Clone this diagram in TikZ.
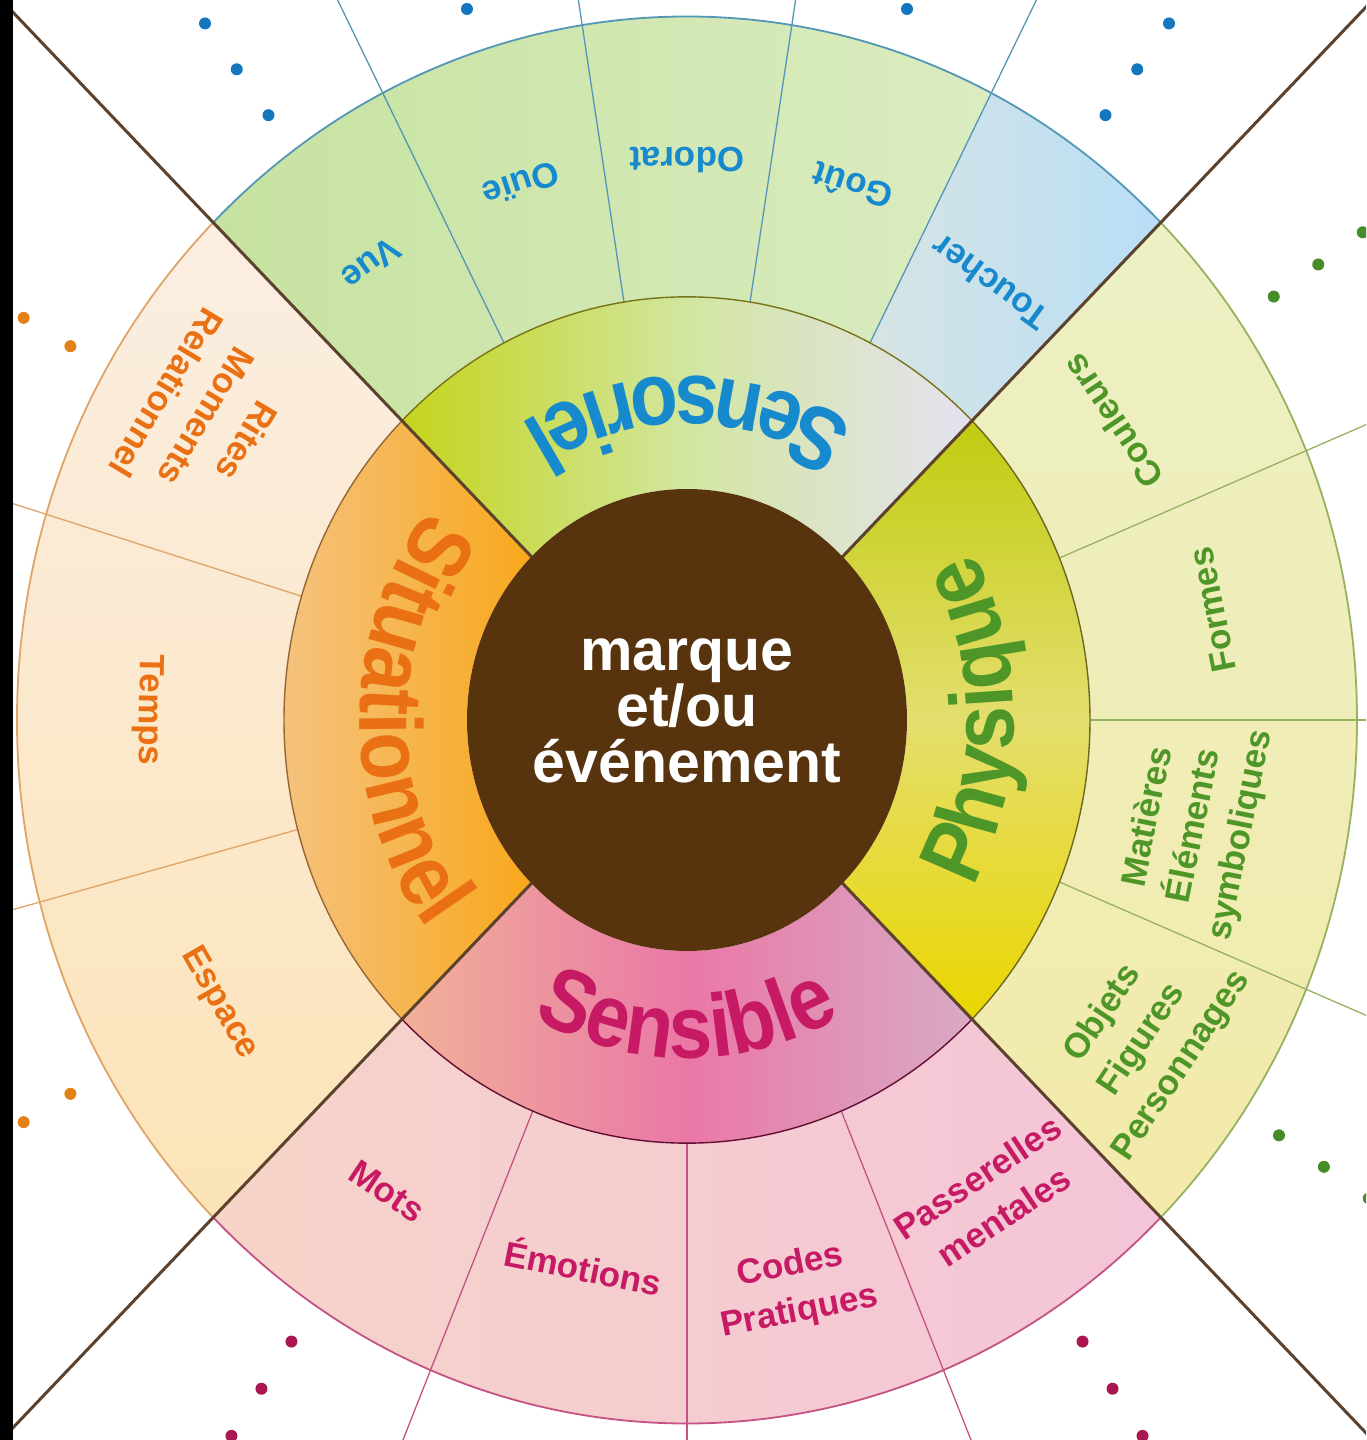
\documentclass[tikz,border=0pt]{standalone}
\usepackage{fontspec}
\setmainfont{Liberation Sans}
\newfontfamily\ringfont{Liberation Sans}[FakeStretch=0.88]
\usetikzlibrary{decorations.text}

\newcommand{\ringtxt}{\ringfont\bfseries\fontsize{89}{89}\selectfont}

\definecolor{brun}{RGB}{87,51,14}
\definecolor{diag}{RGB}{92,66,44}
% sensoriel
\definecolor{sensoblue}{RGB}{22,138,204}
\definecolor{sensoline}{RGB}{84,150,182}
\definecolor{sensodot}{RGB}{20,118,190}
\definecolor{soL}{RGB}{196,212,28}
\definecolor{soM}{RGB}{210,230,160}
\definecolor{soR}{RGB}{228,226,240}
\definecolor{vueL}{RGB}{198,226,160}
\definecolor{vueR}{RGB}{224,238,200}
\definecolor{touL}{RGB}{214,228,228}
\definecolor{touR}{RGB}{184,222,246}
% physique
\definecolor{physgreen}{RGB}{78,150,40}
\definecolor{physline}{RGB}{150,178,96}
\definecolor{physdot}{RGB}{70,140,40}
\definecolor{phT}{RGB}{192,204,16}
\definecolor{phM}{RGB}{228,222,110}
\definecolor{phB}{RGB}{234,214,0}
\definecolor{foT}{RGB}{236,240,196}
\definecolor{foB}{RGB}{243,234,170}
% sensible
\definecolor{sensimag}{RGB}{198,26,100}
\definecolor{sensiline}{RGB}{196,82,132}
\definecolor{sensidot}{RGB}{170,22,82}
\definecolor{siL}{RGB}{240,176,152}
\definecolor{siM}{RGB}{234,120,166}
\definecolor{siR}{RGB}{216,170,196}
\definecolor{moL}{RGB}{246,212,200}
\definecolor{moR}{RGB}{244,196,216}
% situationnel
\definecolor{situorange}{RGB}{234,112,20}
\definecolor{situline}{RGB}{222,164,104}
\definecolor{situdot}{RGB}{226,130,22}
\definecolor{stL}{RGB}{244,198,142}
\definecolor{stR}{RGB}{248,168,28}
\definecolor{teT}{RGB}{251,238,226}
\definecolor{teB}{RGB}{252,228,184}

\tikzset{
  lab/.style={font=\bfseries\fontsize{35}{47}\selectfont, align=center, inner sep=0pt},
  ringline/.style={line width=1.4pt},
  cellline/.style={line width=1.3pt},
  rimline/.style={line width=1.8pt}
}

\begin{document}
\begin{tikzpicture}[x=1pt, y=1.05pt]
    \useasboundingbox (-687,-685.714) rectangle (679,685.714);
    \clip (-687,-685.714) rectangle (679,685.714);

    % Outer band
    \shade[left color=vueL, right color=vueR] (45:403) arc[start angle=45, end angle=135, radius=403]
        -- (135:670) arc[start angle=135, end angle=45, radius=670] -- cycle;
    \shade[left color=touL, right color=touR] (45:403) arc[start angle=45, end angle=63, radius=403]
        -- (63:670) arc[start angle=63, end angle=45, radius=670] -- cycle;
    \shade[top color=foT, bottom color=foB] (-45:403) arc[start angle=-45, end angle=45, radius=403]
        -- (45:670) arc[start angle=45, end angle=-45, radius=670] -- cycle;
    \shade[left color=moL, right color=moR] (-135:403) arc[start angle=-135, end angle=-45, radius=403]
        -- (-45:670) arc[start angle=-45, end angle=-135, radius=670] -- cycle;
    \shade[top color=teT, bottom color=teB] (135:403) arc[start angle=135, end angle=225, radius=403]
        -- (225:670) arc[start angle=225, end angle=135, radius=670] -- cycle;

    % Inner ring
    \shade[left color=soL, right color=soR, middle color=soM] (45:220) arc[start angle=45, end angle=135, radius=220]
        -- (135:403) arc[start angle=135, end angle=45, radius=403] -- cycle;
    \shade[top color=phT, bottom color=phB, middle color=phM] (-45:220) arc[start angle=-45, end angle=45, radius=220]
        -- (45:403) arc[start angle=45, end angle=-45, radius=403] -- cycle;
    \shade[left color=siL, right color=siR, middle color=siM] (-135:220) arc[start angle=-135, end angle=-45, radius=220]
        -- (-45:403) arc[start angle=-45, end angle=-135, radius=403] -- cycle;
    \shade[left color=stL, right color=stR] (135:220) arc[start angle=135, end angle=225, radius=220]
        -- (225:403) arc[start angle=225, end angle=135, radius=403] -- cycle;

    % Cell dividers
    \foreach \a in {63,81,99,117}
        \draw[cellline, sensoline] (\a:403) -- (\a:1100);
    \foreach \a in {22.5,0,-22.5}
        \draw[cellline, physline] (\a:403) -- (\a:1100);
    \foreach \a in {-67.5,-90,-112.5}
        \draw[cellline, sensiline] (\a:403) -- (\a:1100);
    \foreach \a in {163,195}
        \draw[cellline, situline] (\a:403) -- (\a:1100);

    % Rims
    \draw[rimline, sensoline] (45:670) arc[start angle=45, end angle=135, radius=670];
    \draw[rimline, physline] (-45:670) arc[start angle=-45, end angle=45, radius=670];
    \draw[rimline, sensiline] (-135:670) arc[start angle=-135, end angle=-45, radius=670];
    \draw[rimline, situline] (135:670) arc[start angle=135, end angle=225, radius=670];
    \draw[ringline, olive!80!black] (45:403) arc[start angle=45, end angle=135, radius=403];
    \draw[ringline, olive!70!black] (-45:403) arc[start angle=-45, end angle=45, radius=403];
    \draw[ringline, sensimag!50!black] (-135:403) arc[start angle=-135, end angle=-45, radius=403];
    \draw[ringline, brown!80!black] (135:403) arc[start angle=135, end angle=225, radius=403];

    % Diagonals
    \foreach \a in {45,135,225,315}
        \draw[diag, line width=3pt] (0,0) -- (\a:1100);

    % Centre
    \fill[brun] (0,0) circle (220);
    \node[text=white, font=\bfseries\fontsize{59}{56}\selectfont, align=center] (centre) at (0,9)
        {marque\\et/ou\\événement};

    % Ring titles
    \path[decorate, decoration={text along path, text align=center,
        text={|\ringtxt\color{sensoblue}|Sensoriel}}]
        (45:327) arc[start angle=45, end angle=135, radius=327];
    \path[decorate, decoration={text along path, text align=center,
        text={|\ringtxt\color{physgreen}|Physique}}]
        (-45:327) arc[start angle=-45, end angle=45, radius=327];
    \path[decorate, decoration={text along path, text align=center,
        text={|\ringtxt\color{sensimag}|Sensible}}]
        (-135:322) arc[start angle=-135, end angle=-45, radius=322];
    \path[decorate, decoration={text along path, text align=center,
        text={|\ringtxt\color{situorange}|Situationnel}}]
        (135:327) arc[start angle=135, end angle=225, radius=327];

    % Sensoriel cells
    \node[lab, text=sensoblue, rotate=216] (vue) at (126:537) {Vue};
    \node[lab, text=sensoblue, rotate=198] (ouie) at (108:537) {Ouïe};
    \node[lab, text=sensoblue, rotate=180] (odorat) at (90:533) {Odorat};
    \node[lab, text=sensoblue, rotate=162] (gout) at (72:535) {Goût};
    \node[lab, text=sensoblue, rotate=144] (toucher) at (54:515) {Toucher};

    % Physique cells
    \node[lab, text=physgreen, rotate=123.75] (couleurs) at (33.75:512) {Couleurs};
    \node[lab, text=physgreen, rotate=101.25] (formes) at (11.25:536) {Formes};
    \node[lab, text=physgreen, rotate=78.75] (matieres) at (-11.25:518) {Matières\\Éléments\\symboliques};
    \node[lab, text=physgreen, rotate=56.25] (objets) at (-33.75:548) {Objets\\Figures\\Personnages};

    % Sensible cells
    \node[lab, text=sensimag, rotate=-33.75] (mots) at (-123.75:540) {Mots};
    \node[lab, text=sensimag, rotate=-11.25] (emotions) at (-101.25:530) {Émotions};
    \node[lab, text=sensimag, rotate=11.25] (codes) at (-78.75:553) {Codes\\Pratiques};
    \node[lab, text=sensimag, rotate=33.75] (passerelles) at (-56.25:546) {Passerelles\\mentales};

    % Situationnel cells
    \node[lab, text=situorange, rotate=239] (rites) at (149:560) {Rites\\Moments\\Relationnel};
    \node[lab, text=situorange, rotate=269] (temps) at (179:539) {Temps};
    \node[lab, text=situorange, rotate=300] (espace) at (210:540) {Espace};

    % Dots
    \foreach \a in {126,108,72,54}
        \fill[sensodot] (\a:712) circle (6pt);
    \foreach \a in {34.5,11.25,-11.25,-33.75}
        \fill[physdot] (\a:712) circle (6pt);
    \foreach \a in {-56.25,-78.75,-101.25,-123.75}
        \fill[sensidot] (\a:712) circle (6pt);
    \foreach \a in {150,180,210}
        \fill[situdot] (\a:712) circle (6pt);
    \foreach \r in {766,820} {
        \fill[sensodot] (126:\r) circle (6pt);
        \fill[sensodot] (54:\r) circle (6pt);
        \fill[physdot] (34.5:\r) circle (6pt);
        \fill[physdot] (-33.75:\r) circle (6pt);
        \fill[sensidot] (-56.25:\r) circle (6pt);
        \fill[sensidot] (-123.75:\r) circle (6pt);
        \fill[situdot] (150:\r) circle (6pt);
        \fill[situdot] (210:\r) circle (6pt);
    }

    % Left edge
    \fill[black] (-687,-685.714) rectangle (-674,685.714);
\end{tikzpicture}
\end{document}
